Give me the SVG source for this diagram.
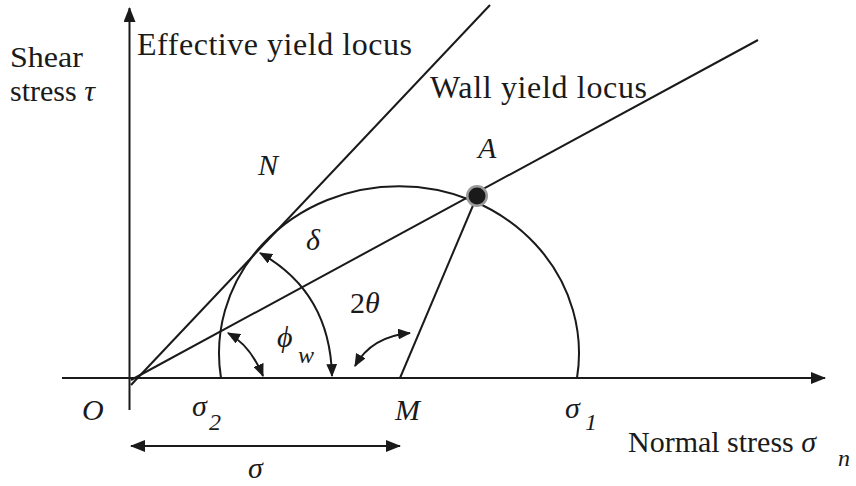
<svg xmlns="http://www.w3.org/2000/svg" width="856" height="486" viewBox="0 0 856 486">
<style>
.ln{stroke:#1a1a1a;stroke-width:2;fill:none}
text{font-family:"Liberation Serif","Times New Roman",Tinos,"DejaVu Serif","Noto Serif",serif;fill:#1a1a1a;font-size:30px}
.i{font-style:italic}
.s{font-size:24px}
.b{font-size:32px}
</style>
<defs>
<marker id="ah" viewBox="0 0 12 10" refX="11" refY="5" markerWidth="13" markerHeight="11" orient="auto-start-reverse" markerUnits="userSpaceOnUse"><path d="M0,0 L12,5 L0,10 z" fill="#1a1a1a"/></marker>
<marker id="big" viewBox="0 0 15 12" refX="14" refY="6" markerWidth="15" markerHeight="12" orient="auto-start-reverse" markerUnits="userSpaceOnUse"><path d="M0,0 L15,6 L0,12 z" fill="#1a1a1a"/></marker>
</defs>
<g id="connectors">
<line class="ln" x1="129.5" y1="410" x2="129.5" y2="8" marker-end="url(#big)"/>
<line class="ln" x1="62" y1="378" x2="825" y2="378" marker-end="url(#big)"/>
<line id="effective-locus" class="ln" x1="131" y1="385" x2="490" y2="5"/>
<line id="wall-locus" class="ln" x1="131" y1="380" x2="758" y2="40"/>
<path id="mohr-circle" class="ln" d="M221,378 A180,167 0 1 1 577,378"/>
<line class="ln" x1="400" y1="378" x2="477" y2="196"/>
<path class="ln" d="M260,253 Q330,292 332,376" marker-start="url(#ah)" marker-end="url(#ah)"/>
<path class="ln" d="M228,333 Q250.5,345.5 263,376" marker-start="url(#ah)" marker-end="url(#ah)"/>
<path class="ln" d="M355,366 Q371.5,336.5 410,333" marker-start="url(#ah)" marker-end="url(#ah)"/>
<line class="ln" x1="131" y1="446" x2="400" y2="446" marker-start="url(#big)" marker-end="url(#big)"/>
</g>
<g id="point-A">
<circle cx="477" cy="196" r="11" fill="#9a9a9a"/>
<circle cx="477" cy="196" r="8.5" fill="#1a1a1a"/>
<text class="i" x="478" y="158">A</text>
</g>
<g id="axis-labels">
<text x="10" y="67" textLength="73" lengthAdjust="spacingAndGlyphs">Shear</text>
<text x="10" y="101">stress <tspan class="i">τ</tspan></text>
<text x="628" y="452" textLength="188" lengthAdjust="spacing">Normal stress <tspan class="i">σ</tspan></text>
<text class="i s" x="838" y="466">n</text>
</g>
<g id="locus-labels">
<text class="b" x="137" y="55" textLength="275" lengthAdjust="spacing">Effective yield locus</text>
<text class="b" x="430" y="98" textLength="217" lengthAdjust="spacing">Wall yield locus</text>
</g>
<g id="point-labels">
<text class="i" x="258" y="175">N</text>
<text class="i" x="82" y="420">O</text>
<text class="i" x="395" y="420">M</text>
<text class="i" x="192" y="416">σ</text>
<text class="i s" x="209" y="430">2</text>
<text class="i" x="565" y="418">σ</text>
<text class="i s" x="585" y="430">1</text>
<text class="i" x="248" y="478">σ</text>
</g>
<g id="angle-labels">
<text class="i" x="306" y="250">δ</text>
<text x="350" y="313">2<tspan class="i">θ</tspan></text>
<text class="i" x="277" y="347">ϕ</text>
<text class="i s" x="298" y="363">w</text>
</g>
</svg>
